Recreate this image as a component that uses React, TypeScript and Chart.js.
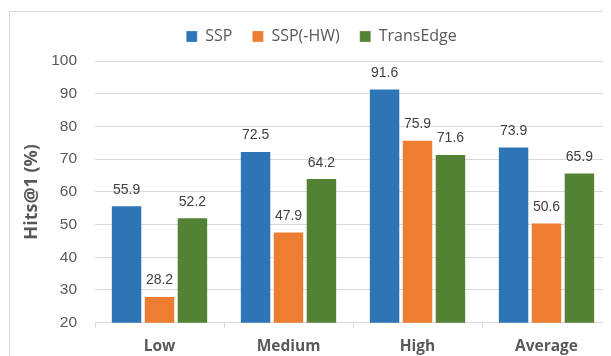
import React, { useEffect, useRef } from "react";
import { Chart, registerables } from "chart.js";

Chart.register(...registerables);

const categories = ["Low", "Medium", "High", "Average"];
const seriesNames = ["SSP", "SSP(-HW)", "TransEdge"];
const sspValues = [55.9, 72.5, 91.6, 73.9];
const sspNoHwValues = [28.2, 47.9, 75.9, 50.6];
const transEdgeValues = [52.2, 64.2, 71.6, 65.9];
const seriesColors = ["#2E75B6", "#ED7D31", "#548235"];
const yTicksMin = 20;
const yTicksMax = 100;
const yTicksStep = 10;

const valueLabels = {
  id: "valueLabels",
  afterDatasetsDraw(chart: any) {
    const ctx = chart.ctx;
    ctx.save();
    ctx.font = "14px 'Liberation Sans', Arial, sans-serif";
    ctx.fillStyle = "#404040";
    ctx.textAlign = "center";
    ctx.textBaseline = "alphabetic";
    chart.data.datasets.forEach((ds: any, i: number) => {
      const meta = chart.getDatasetMeta(i);
      meta.data.forEach((bar: any, j: number) => {
        ctx.fillText(String(ds.data[j]), bar.x, bar.y - 11.5);
      });
    });
    ctx.restore();
  },
};

export default function App() {
  const ref = useRef<HTMLCanvasElement>(null);
  useEffect(() => {
    const chart = new Chart(ref.current!, {
      type: "bar",
      data: {
        labels: categories,
        datasets: [sspValues, sspNoHwValues, transEdgeValues].map((d, i) => ({
          label: seriesNames[i],
          data: d,
          backgroundColor: seriesColors[i],
          borderColor: "rgba(255,255,255,0.25)",
          borderWidth: 1,
          categoryPercentage: 0.766,
          barPercentage: 0.955,
        })),
      },
      options: {
        responsive: true,
        maintainAspectRatio: false,
        animation: false,
        layout: { padding: { left: 24, right: 0, top: 0.5, bottom: 0 } },
        plugins: {
          legend: {
            position: "top",
            labels: {
              boxWidth: 11,
              boxHeight: 11,
              padding: 20,
              color: "#595959",
              font: { family: "'Open Sans', sans-serif", size: 16 },
            },
          },
          title: {
            display: true,
            text: "",
            weight: 500,
            font: { size: 1, lineHeight: 1 },
            padding: { top: 0, bottom: 5.5 },
          } as any,
          tooltip: { enabled: false },
        },
        scales: {
          x: {
            afterFit(scale: any) {
              scale.height = 33.3;
            },
            grid: {
              offset: true,
              drawOnChartArea: false,
              drawTicks: true,
              tickLength: 5,
              color: "#d9d9d9",
            },
            border: { display: true, color: "#d9d9d9" },
            ticks: {
              padding: 11,
              color: "#595959",
              font: { family: "'Open Sans', sans-serif", size: 15.5, weight: "bold", lineHeight: 1 },
            },
          },
          y: {
            min: yTicksMin,
            max: yTicksMax,
            afterFit(scale: any) {
              scale.width = 63;
            },
            grid: { color: "#d9d9d9", drawTicks: false },
            border: { display: false },
            ticks: {
              stepSize: yTicksStep,
              padding: 18,
              color: "#595959",
              font: { family: "'Liberation Sans', Arial, sans-serif", size: 15.5 },
            },
            title: {
              display: true,
              text: "Hits@1 (%)",
              color: "#595959",
              padding: { top: -11, bottom: 0 },
              font: { family: "'Open Sans', sans-serif", size: 18, weight: "bold" },
            },
          },
        },
      },
      plugins: [valueLabels],
    });
    return () => chart.destroy();
  }, []);

  return (
    <div style={{ position: "relative", width: 603, height: 348 }}>
      <div
        style={{
          position: "absolute",
          left: 1,
          top: 3,
          width: 602,
          height: 345,
          borderLeft: "1px solid #d9d9d9",
          borderTop: "1px solid #d9d9d9",
          boxSizing: "border-box",
        }}
      />
      <div style={{ position: "absolute", left: 0, top: 0, width: 603, height: 348 }}>
        <canvas ref={ref} />
      </div>
    </div>
  );
}
